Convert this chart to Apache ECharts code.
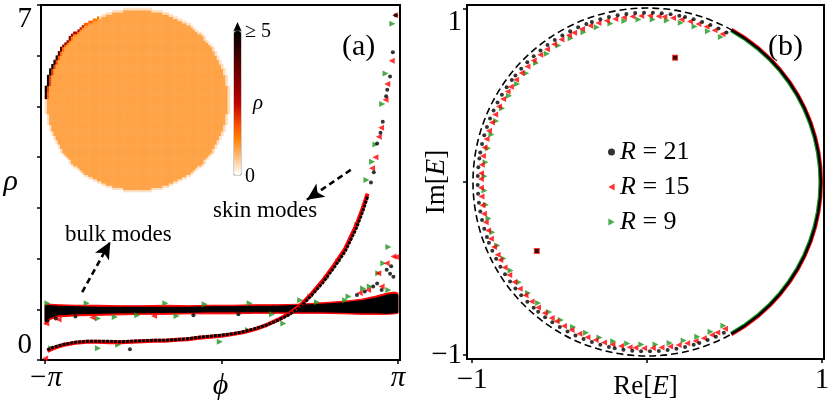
<!DOCTYPE html>
<html>
<head>
<meta charset="utf-8">
<script src="https://cdn.jsdelivr.net/npm/echarts@6/dist/echarts.min.js"></script>
<style>html,body{margin:0;padding:0;background:#fff}#main{width:830px;height:402px}</style>
</head>
<body>
<div id="main"></div>
<script>
var PI = Math.PI;
var FONT = 'Liberation Serif';
var RED = '#ff0000';
var GREEN = '#1e961e';

// ---- panel (a): bulk band (upper/lower edge of the dense band)
var bandPhi    = [-3.14,-3.05,-2.9,-2.6,-2.2,-1.8,-1.4,-1.0,-0.6,-0.2,0.2,0.6,1.0,1.4,1.8,2.2,2.5,2.75,2.95,3.08,3.14];
var bandLow21  = [0.76,0.84,0.89,0.91,0.92,0.93,0.93,0.94,0.94,0.95,0.95,0.95,0.95,0.95,0.95,0.94,0.93,0.93,0.92,0.93,0.94];
var bandHigh21 = [1.07,1.07,1.06,1.05,1.04,1.04,1.04,1.04,1.04,1.05,1.05,1.06,1.06,1.08,1.10,1.13,1.17,1.22,1.28,1.30,1.28];
var bandLow15  = [0.70,0.80,0.85,0.87,0.88,0.89,0.90,0.90,0.91,0.91,0.91,0.92,0.92,0.92,0.92,0.91,0.90,0.90,0.90,0.91,0.92];
var bandHigh15 = [1.10,1.10,1.09,1.08,1.08,1.07,1.07,1.08,1.07,1.08,1.08,1.09,1.09,1.10,1.13,1.16,1.20,1.26,1.32,1.34,1.32];

// ---- panel (a): dense skin branch
var skinPhi   = [-3.10,-3.0,-2.9,-2.8,-2.7,-2.6,-2.4,-2.2,-2.0,-1.8,-1.6,-1.4,-1.2,-1.0,-0.8,-0.6,-0.4,-0.2,0,0.2,0.4,0.6,0.8,1.0,1.2,1.4,1.6,1.8,2.0,2.2,2.4,2.5,2.6];
var skinRho21 = [0.20,0.25,0.28,0.31,0.33,0.35,0.37,0.37,0.37,0.36,0.37,0.38,0.39,0.39,0.40,0.42,0.45,0.47,0.49,0.52,0.56,0.62,0.69,0.78,0.89,1.04,1.27,1.52,1.82,2.14,2.60,2.89,3.22];
var skinRho15 = [0.18,0.23,0.27,0.30,0.32,0.34,0.36,0.36,0.35,0.35,0.36,0.37,0.38,0.38,0.40,0.41,0.44,0.46,0.48,0.51,0.55,0.61,0.69,0.79,0.91,1.07,1.30,1.56,1.86,2.19,2.66,2.95,3.28];

// ---- panel (a): single points [phi, rho]
var dots21 = [[2.66,3.50],[2.71,3.70],[2.77,4.27],[2.83,4.48],[2.87,4.70],[2.93,5.20],[2.95,5.33],[3.00,5.59],[3.05,6.07],[3.10,6.80],
  [2.41,1.28],[2.55,1.35],[2.70,1.45],[2.77,1.51],[2.85,1.38],[2.94,1.78],[3.00,1.70],[3.06,1.64],[3.02,1.85],
  [-3.10,0.78],[-2.95,0.82],[-2.60,0.86],[-1.63,0.21],[-0.50,0.88],[0.30,0.90]];
var dots15 = [[2.68,3.78],[2.74,4.00],[2.80,4.40],[2.84,4.58],[2.92,5.13],[2.95,5.44],[3.03,5.90],[3.09,6.80],
  [2.46,1.32],[2.61,1.38],[2.79,1.71],[2.85,1.45],[2.94,1.91],[3.06,2.04],[3.11,2.03],
  [-3.12,0.72],[-2.90,0.80],[-2.30,0.84],[-1.20,0.87],[-3.14,0.03]];
var dots9 = [[3.04,6.63],[2.92,5.65],[2.86,5.05],[2.74,4.25],[2.68,3.91],[2.58,3.55],[2.41,2.66],[2.08,1.94],[1.87,1.61],[1.58,1.25],[1.40,1.18],
  [2.97,2.23],[2.88,1.91],[2.79,1.71],[2.52,1.41],[2.64,1.45],[2.26,1.25],[2.97,1.38],
  [-3.03,0.23],[-2.20,0.23],[-1.84,0.30],[-0.03,0.36],[0.47,0.59],[1.10,0.72],
  [-2.20,0.82],[-1.90,0.85],[-3.10,1.12],[-2.40,1.12],[-1.00,1.12],[-0.30,1.10],[0.50,1.12],[0.90,0.90],[1.70,1.14],[2.20,1.18],[-1.50,0.88],[-0.80,0.87]];

// ---- inset: density on the disk lattice
var latticeR = 42;
var bulkRho = 0.9;
var rimRho = 0.3;
var skinDeg   = [115,120,125,130,135,140,145,150,155,160,165,170,175];
var skinOuter = [1.3,1.6,2.2,2.6,3.0,3.3,3.8,4.4,5.0,5.5,5.5,5.5,4.6];
var skinInner = [1.0,1.0,1.1,1.2,1.3,1.4,1.5,1.6,1.8,1.9,1.9,1.8,1.5];
var heatColors = ['#ffffff','#ffd4aa','#ffaa55','#ff8000','#ff5500','#df2a00','#bf0000','#9f0000','#800000','#600000','#400000','#200000','#000000'];

// ---- panel (b): eigenvalue angles (deg) on the ring, and ring radii
var ringDeg21 = [62,65,68,71,74,77,79,82,85,88,91,94,97,100,103,106,109,111,114,117,120,123,126,129,132,135,138,141,143,146,149,152,155,158,161,164,167,170,172,175,178,181,184,187,190,193,196,199,201,204,207,210,213,216,219,222,225,228,230,233,236,239,242,245,248,251,254,257,259,262,265,268,271,274,277,280,283,286,288,291,294,297];
var ringDeg15 = [63,66,69,72,75,78,81,84,86,89,92,95,98,101,104,107,110,113,116,118,121,124,127,130,133,136,139,142,145,147,150,153,156,159,162,165,168,171,174,177,179,182,185,188,191,194,197,200,203,206,208,211,214,217,220,223,226,229,232,235,237,240,243,246,249,252,255,258,261,264,266,269,272,275,278,281,284,287,290,293,295,298];
var ringDeg9  = [63,68,73,78,83,88,93,98,103,108,113,118,123,128,133,138,143,148,153,158,163,168,173,178,183,188,193,198,203,208,213,218,223,228,233,238,243,248,253,258,263,268,273,278,283,288,293,298];
var ringR = {r21: 0.973, r15: 0.955, r9: 0.935};
var arcDeg = [-61,-56,-50,-45,-40,-35,-30,-25,-20,-15,-10,-5,0,5,10,15,20,25,30,35,40,45,50,56,61];
var arcR = {r21: 0.999, r15: 1.006, r9: 0.991};
var strayE = [[0.16,0.715],[-0.63,-0.40]];

// lattice heat cells
function inside(i, j) {
  var dx = i - latticeR, dy = j - latticeR, rr = latticeR + 0.45;
  return dx * dx + dy * dy <= rr * rr;
}
function isEdge(i, j) {
  return inside(i, j) && (!inside(i + 1, j) || !inside(i - 1, j) || !inside(i, j + 1) || !inside(i, j - 1));
}
function skinBin(dx, dy) {
  var a = Math.atan2(dy, dx) * 180 / PI;
  for (var k = 0; k < skinDeg.length; k++) {
    if (a >= skinDeg[k] && a < skinDeg[k] + 5) return k;
  }
  return -1;
}
var nCells = 2 * latticeR + 1;
var cellCats = [];
for (var c = 0; c < nCells; c++) cellCats.push(c);
var heatData = [];
for (var i = 0; i < nCells; i++) {
  for (var j = 0; j < nCells; j++) {
    if (!inside(i, j)) continue;
    var k = skinBin(i - latticeR, j - latticeR);
    var v = bulkRho;
    if (isEdge(i, j)) {
      v = k >= 0 ? skinOuter[k] : rimRho;
    } else if (isEdge(i + 1, j) || isEdge(i - 1, j) || isEdge(i, j + 1) || isEdge(i, j - 1)) {
      if (k >= 0) v = skinInner[k];
    }
    heatData.push([i, j, v]);
  }
}

function pairs(xs, ys) { return xs.map(function (x, n) { return [x, ys[n]]; }); }
function polarPts(degs, r) { return degs.map(function (a) { return [r, a]; }); }

function bandSeries(low, high, color) {
  return {
    type: 'custom', xAxisIndex: 0, yAxisIndex: 0, silent: true, clip: true,
    data: [[0, 1]],
    encode: {x: 0, y: 1},
    renderItem: function (params, api) {
      var pts = [];
      for (var n = 0; n < bandPhi.length; n++) pts.push(api.coord([bandPhi[n], high[n]]));
      for (var m = bandPhi.length - 1; m >= 0; m--) pts.push(api.coord([bandPhi[m], low[m]]));
      return {type: 'polygon', shape: {points: pts}, style: {fill: color, stroke: color, lineWidth: 1}};
    }
  };
}

var triL = 'triangle';
var tickStyle = {show: true, inside: false, length: 4, lineStyle: {color: '#000', width: 1.5}};
var lineStyleAx = {show: true, onZero: false, lineStyle: {color: '#000', width: 2}};
var textTop = {align: 'left', verticalAlign: 'middle', textAlign: 'left', textVerticalAlign: 'middle', fill: '#000'};
function txt(s, x, y, font) {
  return {type: 'text', style: Object.assign({text: s, x: x, y: y, font: font}, textTop)};
}
// polar 0 carries the eigenvalues (room up to |E| = 1.05), polar 1 only draws the dashed unit circle
var unitPx = 174;
var polarMax = 1.05;
var hiddenAx = {axisLine: {show: false}, axisTick: {show: false}, axisLabel: {show: false}, splitLine: {show: false}};

var chart = echarts.init(document.getElementById('main'));
var option = {
  animation: false,
  textStyle: {fontFamily: FONT, color: '#000'},
  grid: [
    {left: 41, top: 5, width: 359, height: 355, show: true, borderColor: '#000', borderWidth: 2, backgroundColor: 'transparent', containLabel: false, outerBoundsMode: 'none'},
    {left: 467, top: 5, width: 357, height: 354, show: true, borderColor: '#000', borderWidth: 2, backgroundColor: 'transparent', containLabel: false, outerBoundsMode: 'none'},
    {left: 45, top: 8, width: 185, height: 184, show: false, containLabel: false, outerBoundsMode: 'none'}
  ],
  xAxis: [
    {gridIndex: 0, type: 'value', min: -3.213, max: 3.177, axisLine: lineStyleAx, splitLine: {show: false},
      axisTick: Object.assign({customValues: [-PI, 0, PI]}, tickStyle),
      axisLabel: {customValues: [-PI, PI], fontSize: 29, fontFamily: FONT, fontStyle: 'italic', color: '#000', margin: 4,
        formatter: function (v) { return v < 0 ? '\u2212\u03c0' : '\u03c0'; }},
      name: '\u03d5', nameLocation: 'middle', nameGap: 11, nameMoveOverlap: false,
      nameTextStyle: {fontSize: 30, fontFamily: FONT, fontStyle: 'italic', color: '#000'}},
    {gridIndex: 1, type: 'value', min: -1.029, max: 1.011, axisLine: lineStyleAx, splitLine: {show: false},
      axisTick: Object.assign({customValues: [-1, 0, 1]}, tickStyle),
      axisLabel: {customValues: [-1, 1], fontSize: 29, fontFamily: FONT, color: '#000', margin: 7,
        formatter: function (v) { return v < 0 ? '\u22121' : '1'; }},
      name: '{n|Re[}{i|E}{n|]}', nameLocation: 'middle', nameGap: 14, nameMoveOverlap: false,
      nameTextStyle: {fontSize: 27, fontFamily: FONT, color: '#000',
        rich: {n: {fontSize: 27, fontFamily: FONT}, i: {fontSize: 27, fontFamily: FONT, fontStyle: 'italic'}}}},
    {gridIndex: 2, type: 'category', data: cellCats, show: false}
  ],
  yAxis: [
    {gridIndex: 0, type: 'value', min: 0, max: 7, interval: 1, axisLine: lineStyleAx, splitLine: {show: false},
      axisTick: tickStyle,
      axisLabel: {customValues: [0, 7], fontSize: 29, lineHeight: 29, fontFamily: FONT, color: '#000', margin: 9,
        verticalAlignMinLabel: 'bottom', verticalAlignMaxLabel: 'top'},
      name: '\u03c1', nameLocation: 'middle', nameRotate: 0, nameGap: 23, nameMoveOverlap: false,
      nameTextStyle: {fontSize: 30, fontFamily: FONT, fontStyle: 'italic', color: '#000'}},
    {gridIndex: 1, type: 'value', min: -1.023, max: 1.019, axisLine: lineStyleAx, splitLine: {show: false},
      axisTick: Object.assign({customValues: [-1, 0, 1]}, tickStyle),
      axisLabel: {customValues: [-1, 1], fontSize: 29, lineHeight: 29, fontFamily: FONT, color: '#000', margin: 5,
        verticalAlignMaxLabel: 'top',
        formatter: function (v) { return v < 0 ? '\u22121' : '1'; }},
      name: '{n|Im[}{i|E}{n|]}', nameLocation: 'middle', nameGap: 17, nameMoveOverlap: false,
      nameTextStyle: {fontSize: 27, fontFamily: FONT, color: '#000',
        rich: {n: {fontSize: 27, fontFamily: FONT}, i: {fontSize: 27, fontFamily: FONT, fontStyle: 'italic'}}}},
    {gridIndex: 2, type: 'category', data: cellCats, show: false}
  ],
  polar: [
    {center: [647, 182], radius: unitPx * polarMax},
    {center: [647, 182], radius: unitPx}
  ],
  angleAxis: [
    Object.assign({polarIndex: 0, type: 'value', min: -62, max: 298, startAngle: -62, clockwise: false}, hiddenAx),
    {polarIndex: 1, type: 'value', min: 0, max: 360, startAngle: 0, clockwise: false,
      axisLine: {show: true, lineStyle: {color: '#000', width: 1.6, type: [7, 4]}},
      axisTick: {show: false}, axisLabel: {show: false}, splitLine: {show: false}}
  ],
  radiusAxis: [
    Object.assign({polarIndex: 0, type: 'value', min: 0, max: polarMax}, hiddenAx),
    Object.assign({polarIndex: 1, type: 'value', min: 0, max: 1}, hiddenAx)
  ],
  visualMap: {
    type: 'continuous', seriesIndex: 9, min: 0, max: 5, calculable: false,
    orient: 'vertical', left: 234, top: 31, itemWidth: 7, itemHeight: 144, padding: 0,
    inRange: {color: heatColors}
  },
  legend: {
    data: [
      {name: 'R = 21', icon: 'circle', itemStyle: {color: '#000'}},
      {name: 'R = 15', icon: 'path://M0,5L9,0L9,10Z', itemStyle: {color: RED}},
      {name: 'R = 9', icon: 'path://M0,0L9,5L0,10Z', itemStyle: {color: GREEN}}
    ],
    orient: 'vertical', left: 603, top: 133, itemWidth: 7, itemHeight: 7, itemGap: 7, selectedMode: false,
    formatter: function (name) { return '{i|R} = ' + name.split('= ')[1]; },
    textStyle: {fontSize: 26, lineHeight: 28, fontFamily: FONT, color: '#000',
      rich: {i: {fontSize: 26, fontFamily: FONT, fontStyle: 'italic'}}}
  },
  graphic: [
    txt('(a)', 342, 47, '30px ' + FONT),
    txt('(b)', 768, 47, '30px ' + FONT),
    txt('bulk modes', 65, 235, '23px ' + FONT),
    txt('skin modes', 213, 211, '23px ' + FONT),
    txt('\u2265 5', 245, 32, '20px ' + FONT),
    txt('\u03c1', 253, 103, 'italic 21px ' + FONT),
    txt('0', 245, 177, '20px ' + FONT),
    {type: 'polygon', shape: {points: [[233.5, 31], [241.5, 31], [237.5, 22]]}, style: {fill: '#000'}},
    {type: 'rect', shape: {x: 234, y: 31, width: 7, height: 144}, style: {fill: 'none', stroke: '#888', lineWidth: 0.8}},
    {type: 'line', shape: {x1: 238, y1: 60, x2: 241, y2: 60}, style: {stroke: '#444', lineWidth: 0.8}},
    {type: 'line', shape: {x1: 238, y1: 89, x2: 241, y2: 89}, style: {stroke: '#444', lineWidth: 0.8}},
    {type: 'line', shape: {x1: 238, y1: 118, x2: 241, y2: 118}, style: {stroke: '#444', lineWidth: 0.8}},
    {type: 'line', shape: {x1: 238, y1: 147, x2: 241, y2: 147}, style: {stroke: '#444', lineWidth: 0.8}}
  ],
  series: [
    // 0..8 panel (a)
    bandSeries(bandLow15, bandHigh15, RED),
    bandSeries(bandLow21, bandHigh21, '#000'),
    {type: 'line', name: 'skin15', xAxisIndex: 0, yAxisIndex: 0, data: pairs(skinPhi, skinRho15), showSymbol: false, silent: true,
      lineStyle: {color: RED, width: 4}},
    {type: 'line', name: 'skin21', xAxisIndex: 0, yAxisIndex: 0, data: pairs(skinPhi, skinRho21), showSymbol: false, silent: true,
      lineStyle: {color: '#000', width: 3, type: [3, 1]}},
    {type: 'scatter', name: 'a9', xAxisIndex: 0, yAxisIndex: 0, data: dots9, symbol: triL, symbolRotate: -90, symbolSize: 6, silent: true,
      itemStyle: {color: GREEN}},
    {type: 'scatter', name: 'a15', xAxisIndex: 0, yAxisIndex: 0, data: dots15, symbol: triL, symbolRotate: 90, symbolSize: 6, silent: true,
      itemStyle: {color: RED}},
    {type: 'scatter', name: 'a21', xAxisIndex: 0, yAxisIndex: 0, data: dots21, symbol: 'circle', symbolSize: 4, silent: true,
      itemStyle: {color: '#000'},
      markLine: {silent: true, symbol: ['none', 'arrow'], symbolSize: [12, 17], animation: false,
        label: {show: false}, emphasis: {disabled: true},
        lineStyle: {color: '#000', width: 2.6, type: [6, 4]},
        data: [
          [{coord: [-2.48, 1.34]}, {coord: [-1.98, 2.33]}],
          [{coord: [2.30, 3.75]}, {coord: [1.52, 3.16]}]
        ]}},
    {type: 'line', name: 'pad7', data: []},
    {type: 'line', name: 'pad8', data: []},
    // 9 inset heatmap
    {type: 'heatmap', name: 'disk', xAxisIndex: 2, yAxisIndex: 2, data: heatData, progressive: 0, silent: true},
    // panel (b)
    {type: 'line', name: 'arc9', coordinateSystem: 'polar', polarIndex: 0, data: polarPts(arcDeg, arcR.r9), showSymbol: false, silent: true,
      lineStyle: {color: GREEN, width: 2}},
    {type: 'line', name: 'arc15', coordinateSystem: 'polar', polarIndex: 0, data: polarPts(arcDeg, arcR.r15), showSymbol: false, silent: true,
      lineStyle: {color: RED, width: 2}},
    {type: 'line', name: 'arc21', coordinateSystem: 'polar', polarIndex: 0, data: polarPts(arcDeg, arcR.r21), showSymbol: false, silent: true,
      lineStyle: {color: '#000', width: 2.4}},
    {type: 'scatter', name: 'R = 9', coordinateSystem: 'polar', polarIndex: 0, data: polarPts(ringDeg9, ringR.r9), symbol: triL, symbolRotate: -90, symbolSize: 6, silent: true,
      itemStyle: {color: GREEN}},
    {type: 'scatter', name: 'R = 15', coordinateSystem: 'polar', polarIndex: 0, data: polarPts(ringDeg15, ringR.r15), symbol: triL, symbolRotate: 90, symbolSize: 6, silent: true,
      itemStyle: {color: RED}},
    {type: 'scatter', name: 'R = 21', coordinateSystem: 'polar', polarIndex: 0, data: polarPts(ringDeg21, ringR.r21), symbol: 'circle', symbolSize: 4, silent: true,
      itemStyle: {color: '#000'}},
    {type: 'scatter', name: 'stray15', xAxisIndex: 1, yAxisIndex: 1, data: strayE, symbol: 'rect', symbolSize: 6, silent: true,
      itemStyle: {color: RED}},
    {type: 'scatter', name: 'stray21', xAxisIndex: 1, yAxisIndex: 1, data: strayE, symbol: 'rect', symbolSize: 4, silent: true,
      itemStyle: {color: '#000'}}
  ]
};
chart.setOption(option);
</script>
</body>
</html>
